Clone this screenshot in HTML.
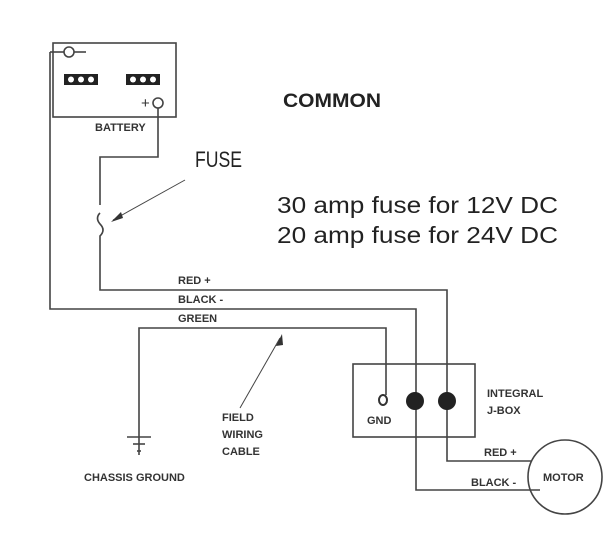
<!DOCTYPE html>
<html><head><style>
body{margin:0;background:#fff;}
svg{display:block;}
.b{font-family:"Liberation Sans",sans-serif;font-weight:bold;font-size:11px;fill:#333;}
</style></head><body>
<svg width="606" height="538" viewBox="0 0 606 538">
<g fill="none" stroke="#444" stroke-width="1.6">
<rect x="53" y="43" width="123" height="74"/>
<circle cx="69" cy="52" r="5"/>
<line x1="50" y1="52" x2="64" y2="52"/><line x1="74" y1="52" x2="86" y2="52"/>
<circle cx="158" cy="103" r="5"/>
<path d="M50 52 V309 H416 V490 H540"/>
<path d="M158 108 V157 H100 V205"/>
<path d="M100 213 Q95 218 100 224 Q106 230 100 236 V290 H447 V461 H532"/>
<path d="M139 455 V328 H386 V395"/>
<rect x="353" y="364" width="122" height="73"/>
<circle cx="565" cy="477" r="37"/>
<line x1="127" y1="437" x2="151" y2="437"/>
<line x1="133" y1="444" x2="145" y2="444"/>
<line x1="137" y1="451" x2="141" y2="451"/>
<line x1="185" y1="180" x2="113" y2="220" stroke-width="1"/>
<line x1="240" y1="408" x2="280" y2="338" stroke-width="1"/>
</g>
<polygon points="111,222 121,212 123,218" fill="#333"/>
<polygon points="282,334 276,346 283,345" fill="#333"/>
<g fill="#222">
<rect x="64" y="74" width="34" height="11"/><rect x="126" y="74" width="34" height="11"/>
<circle cx="415" cy="401" r="9"/><circle cx="447" cy="401" r="9"/>
</g>
<g fill="#fff"><circle cx="71" cy="79.5" r="3"/><circle cx="81" cy="79.5" r="3"/><circle cx="91" cy="79.5" r="3"/>
<circle cx="133" cy="79.5" r="3"/><circle cx="143" cy="79.5" r="3"/><circle cx="153" cy="79.5" r="3"/></g>
<ellipse cx="383" cy="400" rx="4" ry="5" fill="none" stroke="#333" stroke-width="2"/>
<text x="141" y="108" font-family="Liberation Sans" font-size="15" fill="#333">+</text>
<text class="b" x="95" y="131">BATTERY</text>
<text x="195" y="167" font-family="Liberation Sans" font-size="22" fill="#222" textLength="47" lengthAdjust="spacingAndGlyphs">FUSE</text>
<text x="283" y="107" font-family="Liberation Sans" font-weight="bold" font-size="19" fill="#222" textLength="98" lengthAdjust="spacingAndGlyphs">COMMON</text>
<text x="277" y="213" font-family="Liberation Sans" font-size="23" fill="#222" textLength="281" lengthAdjust="spacingAndGlyphs">30 amp fuse for 12V DC</text>
<text x="277" y="243" font-family="Liberation Sans" font-size="23" fill="#222" textLength="281" lengthAdjust="spacingAndGlyphs">20 amp fuse for 24V DC</text>
<text class="b" x="178" y="284">RED +</text>
<text class="b" x="178" y="303">BLACK -</text>
<text class="b" x="178" y="322">GREEN</text>
<text class="b" x="222" y="421">FIELD</text>
<text class="b" x="222" y="438">WIRING</text>
<text class="b" x="222" y="455">CABLE</text>
<text class="b" x="84" y="481">CHASSIS GROUND</text>
<text class="b" x="367" y="424">GND</text>
<text class="b" x="487" y="397">INTEGRAL</text>
<text class="b" x="487" y="414">J-BOX</text>
<text class="b" x="484" y="456">RED +</text>
<text class="b" x="471" y="486">BLACK -</text>
<text class="b" x="543" y="481">MOTOR</text>
</svg>
</body></html>
